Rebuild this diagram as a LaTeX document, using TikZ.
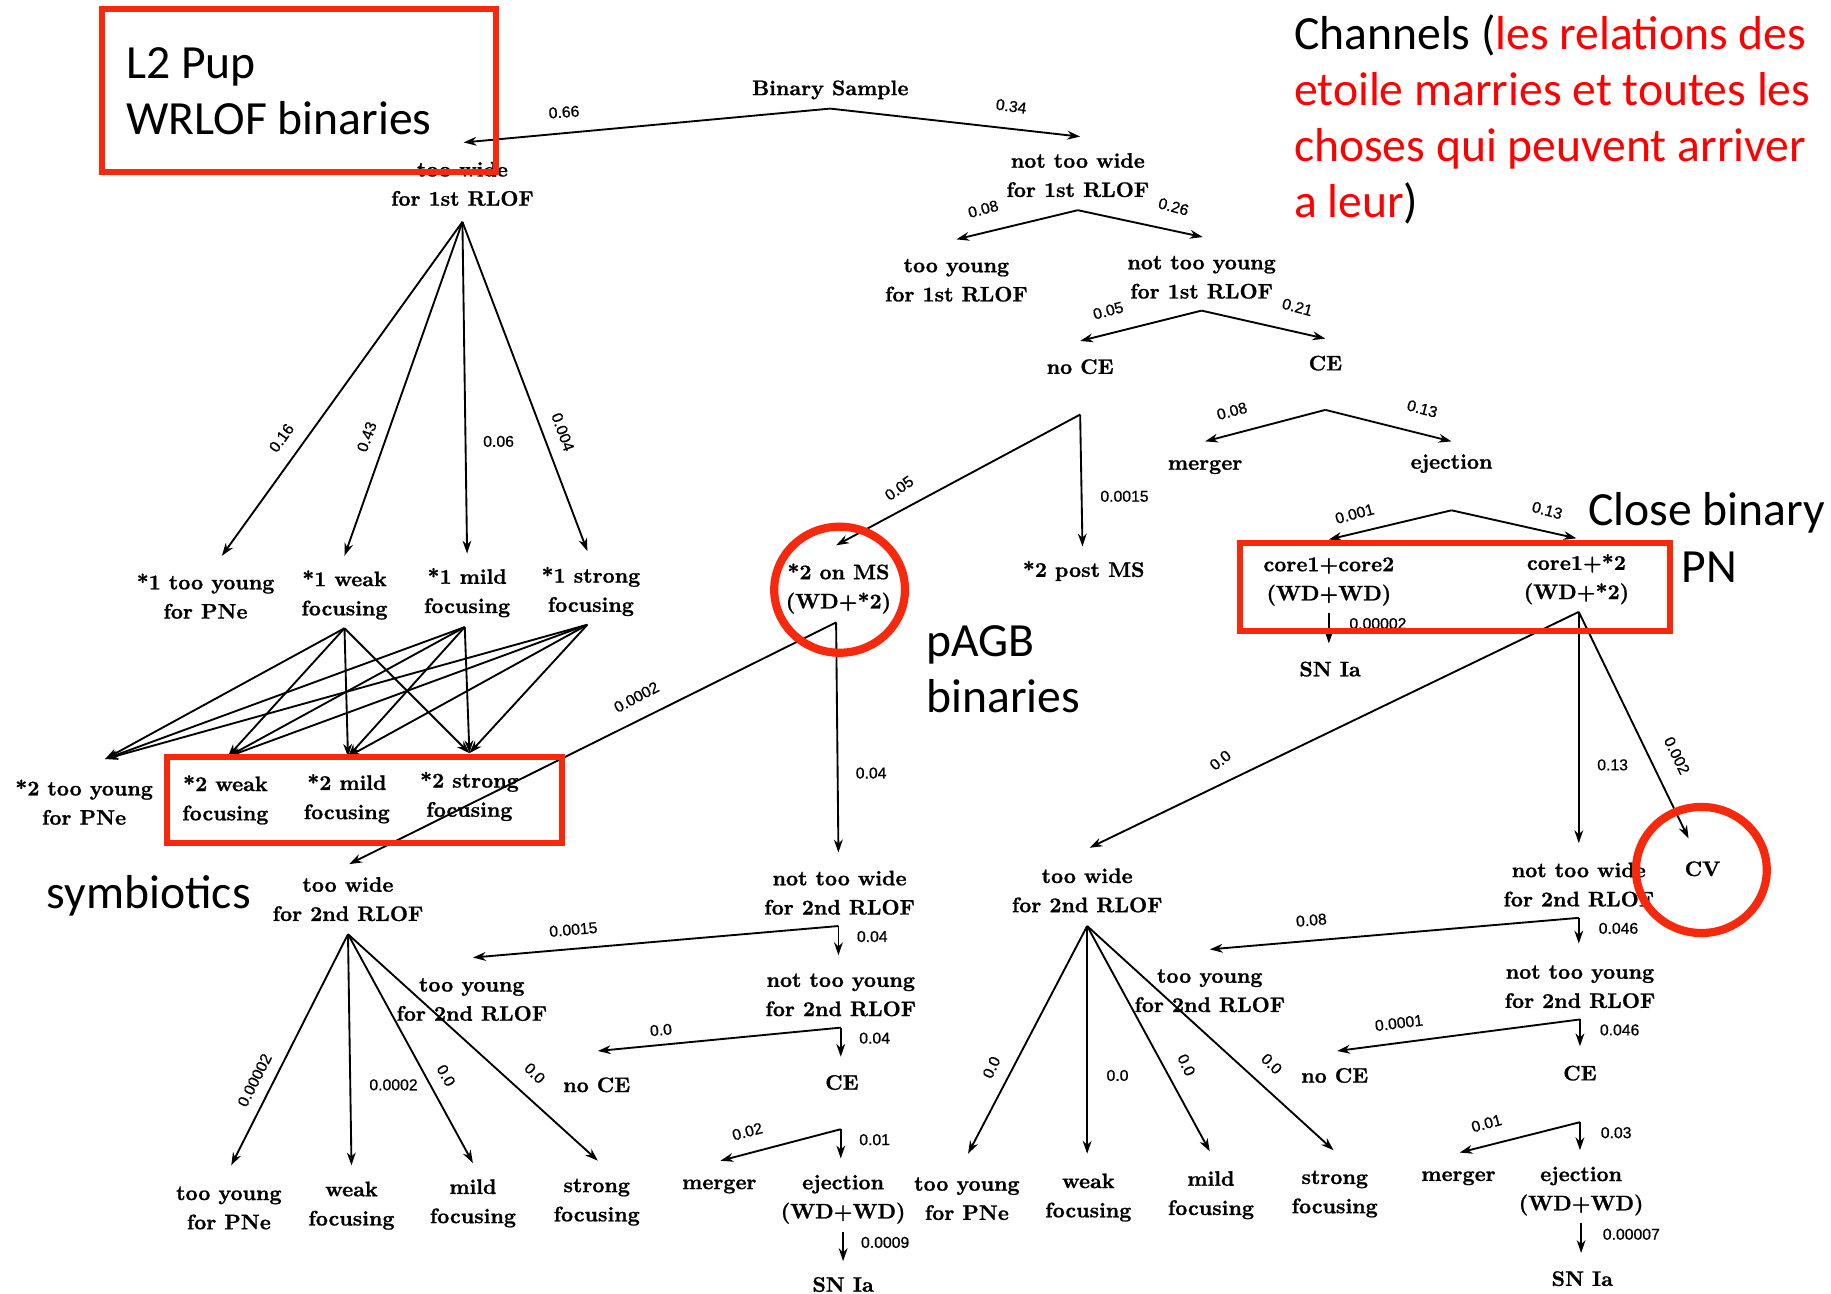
\documentclass[tikz,border=0pt]{standalone}
\usepackage{fontspec}
\newfontfamily\treef{lmroman10-bold.otf}[FakeBold=1]
\newfontfamily\labf{Liberation Sans}[FakeBold=0.6]
\newfontfamily\calf{Carlito}
\usetikzlibrary{arrows.meta}
\definecolor{boxred}{RGB}{248,40,12}
\begin{document}
\begin{tikzpicture}[x=1pt,y=-1pt,
  tx/.style={font=\treef\fontsize{18}{25}\selectfont, align=center, inner sep=0pt},
  lb/.style={font=\labf\fontsize{13.5}{14}\selectfont, inner sep=0pt},
  ann/.style={font=\calf\fontsize{40.8}{48}\selectfont, align=left, inner sep=0pt, anchor=west},
  arr/.style={line width=1.6pt, -{Stealth[length=11pt,width=7.5pt,inset=3.5pt]}},
  redbox/.style={draw=boxred, line width=5pt},
  redring/.style={draw=boxred, line width=7pt}]
\fill[white] (0,0) rectangle (1568,1108);
\path[use as bounding box] (0,0) rectangle (1568,1108);

% ---------- text nodes ----------
\node[tx] (bs) at (711,77) {Binary Sample};
\node[tx] (tw1) at (396,157.5) {too wide\\for 1st RLOF};
\node[tx] (ntw1) at (923,150) {not too wide\\for 1st RLOF};
\node[tx] (ty1) at (819,240) {too young\\for 1st RLOF};
\node[tx] (nty1) at (1029,237.5) {not too young\\for 1st RLOF};
\node[tx] (nce1) at (925,314) {no CE};
\node[tx] (ce1) at (1135,311) {CE};
\node[tx] (mg1) at (1032,400) {merger};
\node[tx] (ej1) at (1243,397) {ejection};
\node[tx] (cc) at (1138,498) {core1+core2\\(WD+WD)};
\node[tx] (sna) at (1139,573) {SN Ia};
\node[tx] (cs) at (1350,496) {core1+*2\\(WD+*2)};
\node[tx] (cv) at (1458,744) {CV};

\node[tx] (y1) at (176,510.5) {*1 too young\\for PNe};
\node[tx] (w1) at (295,509.5) {*1 weak\\focusing};
\node[tx] (m1) at (400,507.5) {*1 mild\\focusing};
\node[tx] (s1) at (506,506.5) {*1 strong\\focusing};
\node[tx] (y2) at (72,687) {*2 too young\\for PNe};
\node[tx] (w2) at (193,685) {*2 weak\\focusing};
\node[tx] (m2) at (297,684) {*2 mild\\focusing};
\node[tx] (s2) at (402,682) {*2 strong\\focusing};

\node[tx] (onms) at (718,504) {*2 on MS\\(WD+*2)};
\node[tx] (pms) at (928,489) {*2 post MS};

\node[tx] (tw2a) at (298,770) {too wide\\for 2nd RLOF};
\node[tx] (yb1) at (196,1034.5) {too young\\for PNe};
\node[tx] (wb1) at (301,1032.5) {weak\\focusing};
\node[tx] (mb1) at (405,1030.5) {mild\\focusing};
\node[tx] (sb1) at (511,1029.5) {strong\\focusing};

\node[tx] (ntw2a) at (719,764.5) {not too wide\\for 2nd RLOF};
\node[tx] (ty2a) at (404,856) {too young\\for 2nd RLOF};
\node[tx] (nty2a) at (720,852) {not too young\\for 2nd RLOF};
\node[tx] (nce2a) at (511,929) {no CE};
\node[tx] (ce2a) at (721,927) {CE};
\node[tx] (mg2a) at (616,1016) {merger};
\node[tx] (ej2a) at (722,1027) {ejection\\(WD+WD)};
\node[tx] (sn2a) at (722,1100) {SN Ia};

\node[tx] (tw2b) at (931,762.5) {too wide\\for 2nd RLOF};
\node[tx] (yb2) at (828,1026.5) {too young\\for PNe};
\node[tx] (wb2) at (932,1025.5) {weak\\focusing};
\node[tx] (mb2) at (1037,1023.5) {mild\\focusing};
\node[tx] (sb2) at (1143,1022.5) {strong\\focusing};

\node[tx] (ntw2b) at (1352,757.5) {not too wide\\for 2nd RLOF};
\node[tx] (ty2b) at (1036,848.5) {too young\\for 2nd RLOF};
\node[tx] (nty2b) at (1353,845) {not too young\\for 2nd RLOF};
\node[tx] (nce2b) at (1143,921) {no CE};
\node[tx] (ce2b) at (1353,919) {CE};
\node[tx] (mg2b) at (1249,1009) {merger};
\node[tx] (ej2b) at (1354,1020) {ejection\\(WD+WD)};
\node[tx] (sn2b) at (1355,1095) {SN Ia};

% ---------- connector points ----------
\coordinate (bsA) at (711,93);
\coordinate (tw1in) at (397,122);   \coordinate (tw1A) at (396,190);
\coordinate (ntw1in) at (925,117);  \coordinate (ntw1A) at (923,180);
\coordinate (ty1in) at (819,205);
\coordinate (nty1in) at (1030,203); \coordinate (nty1A) at (1029,266);
\coordinate (nce1in) at (925,292);  \coordinate (nce1A) at (925,355);
\coordinate (ce1in) at (1135,290);  \coordinate (ce1A) at (1135,351);
\coordinate (mg1in) at (1032,378);
\coordinate (ej1in) at (1243,378);  \coordinate (ej1A) at (1243,437);
\coordinate (ccin) at (1138,462);   \coordinate (ccA) at (1138,525);
\coordinate (snain) at (1138,551);
\coordinate (csin) at (1350,461);   \coordinate (csA) at (1352,524);
\coordinate (cvin) at (1446,718);

\coordinate (y1in) at (190,476);
\coordinate (w1in) at (295,476);    \coordinate (w1A) at (295,538);
\coordinate (m1in) at (400,474);    \coordinate (m1A) at (398,537);
\coordinate (s1in) at (503,472);    \coordinate (s1A) at (503,535);
\coordinate (y2in) at (90,650);
\coordinate (w2in) at (195,648);
\coordinate (m2in) at (298,648);
\coordinate (s2in) at (402,645);

\coordinate (onmsin) at (716,467);  \coordinate (onmsA) at (716,533);
\coordinate (pmsin) at (927,468);

\coordinate (tw2ain) at (299,740);  \coordinate (tw2aA) at (298,800);
\coordinate (yb1in) at (198,998);
\coordinate (wb1in) at (301,998);
\coordinate (mb1in) at (405,996);
\coordinate (sb1in) at (512,994);

\coordinate (ntw2ain) at (718,730); \coordinate (ntw2aA) at (718,793);
\coordinate (ty2ain) at (405,820);
\coordinate (nty2ain) at (718,818); \coordinate (nty2aA) at (720,880);
\coordinate (nce2ain) at (512,900);
\coordinate (ce2ain) at (720,905);  \coordinate (ce2aA) at (720,967);
\coordinate (mg2ain) at (617,994);
\coordinate (ej2ain) at (720,992);  \coordinate (ej2aA) at (722,1055);
\coordinate (sn2ain) at (722,1080);

\coordinate (tw2bin) at (933,726);  \coordinate (tw2bA) at (931,793);
\coordinate (yb2in) at (829,988);
\coordinate (wb2in) at (931,988);
\coordinate (mb2in) at (1036,986);
\coordinate (sb2in) at (1142,985);

\coordinate (ntw2bin) at (1352,722); \coordinate (ntw2bA) at (1352,786);
\coordinate (ty2bin) at (1036,813);
\coordinate (nty2bin) at (1352,808); \coordinate (nty2bA) at (1353,873);
\coordinate (nce2bin) at (1145,900);
\coordinate (ce2bin) at (1353,896);  \coordinate (ce2bA) at (1353,961);
\coordinate (mg2bin) at (1250,987);
\coordinate (ej2bin) at (1353,985);  \coordinate (ej2bA) at (1354,1047);
\coordinate (sn2bin) at (1354,1073);

% ---------- connectors ----------
\draw[arr] (bsA) -- (tw1in);
\draw[arr] (bsA) -- (ntw1in);
\draw[arr] (ntw1A) -- (ty1in);
\draw[arr] (ntw1A) -- (nty1in);
\draw[arr] (nty1A) -- (nce1in);
\draw[arr] (nty1A) -- (ce1in);
\draw[arr] (ce1A) -- (mg1in);
\draw[arr] (ce1A) -- (ej1in);
\draw[arr] (ej1A) -- (ccin);
\draw[arr] (ej1A) -- (csin);
\draw[arr] (ccA) -- (snain);
\draw[arr] (csA) -- (tw2bin);
\draw[arr] (csA) -- (ntw2bin);
\draw[arr] (csA) -- (cvin);

\draw[arr] (tw1A) -- (y1in);
\draw[arr] (tw1A) -- (w1in);
\draw[arr] (tw1A) -- (m1in);
\draw[arr] (tw1A) -- (s1in);
\foreach \s in {w1A,m1A,s1A}{
  \foreach \t in {y2in,w2in,m2in,s2in}{
    \draw[arr] (\s) -- (\t);
  }
}

\draw[arr] (nce1A) -- (onmsin);
\draw[arr] (nce1A) -- (pmsin);
\draw[arr] (onmsA) -- (tw2ain);
\draw[arr] (onmsA) -- (ntw2ain);

\draw[arr] (tw2aA) -- (yb1in);
\draw[arr] (tw2aA) -- (wb1in);
\draw[arr] (tw2aA) -- (mb1in);
\draw[arr] (tw2aA) -- (sb1in);

\draw[arr] (ntw2aA) -- (ty2ain);
\draw[arr] (ntw2aA) -- (nty2ain);
\draw[arr] (nty2aA) -- (nce2ain);
\draw[arr] (nty2aA) -- (ce2ain);
\draw[arr] (ce2aA) -- (mg2ain);
\draw[arr] (ce2aA) -- (ej2ain);
\draw[arr] (ej2aA) -- (sn2ain);

\draw[arr] (tw2bA) -- (yb2in);
\draw[arr] (tw2bA) -- (wb2in);
\draw[arr] (tw2bA) -- (mb2in);
\draw[arr] (tw2bA) -- (sb2in);

\draw[arr] (ntw2bA) -- (ty2bin);
\draw[arr] (ntw2bA) -- (nty2bin);
\draw[arr] (nty2bA) -- (nce2bin);
\draw[arr] (nty2bA) -- (ce2bin);
\draw[arr] (ce2bA) -- (mg2bin);
\draw[arr] (ce2bA) -- (ej2bin);
\draw[arr] (ej2bA) -- (sn2bin);

% ---------- edge labels ----------
\node[lb, rotate=4] (l01) at (483,96) {0.66};
\node[lb, rotate=-8] (l02) at (866,91) {0.34};
\node[lb, rotate=15] (l03) at (842,179) {0.08};
\node[lb, rotate=-15] (l04) at (1005,177) {0.26};
\node[lb, rotate=15] (l05) at (949,266) {0.05};
\node[lb, rotate=-15] (l06) at (1111,263) {0.21};
\node[lb, rotate=15] (l07) at (1055,352) {0.08};
\node[lb, rotate=-15] (l08) at (1218,350) {0.13};
\node[lb, rotate=15] (l09) at (1160,440) {0.001};
\node[lb, rotate=-15] (l10) at (1325,437) {0.13};
\node[lb] (l11) at (1180,534) {0.00002};
\node[lb, rotate=54] (l12) at (241,375) {0.16};
\node[lb, rotate=70] (l13) at (314,374) {0.43};
\node[lb] (l14) at (427,378) {0.06};
\node[lb, rotate=-70] (l15) at (482,370) {0.004};
\node[lb, rotate=35] (l16) at (770,418) {0.05};
\node[lb] (l17) at (963,425) {0.0015};
\node[lb, rotate=28] (l18) at (545,597) {0.0002};
\node[lb] (l19) at (746,662) {0.04};
\node[lb, rotate=38] (l20) at (1045,651) {0.0};
\node[lb] (l21) at (1381,655) {0.13};
\node[lb, rotate=-64] (l22) at (1436,647) {0.002};
\node[lb, rotate=63] (l23) at (218,925) {0.00002};
\node[lb] (l24) at (337,929) {0.0002};
\node[lb, rotate=-61] (l25) at (382,921) {0.0};
\node[lb, rotate=-45] (l26) at (458,919) {0.0};
\node[lb, rotate=5] (l27) at (491,796) {0.0015};
\node[lb] (l28) at (747,802) {0.04};
\node[lb, rotate=5] (l29) at (566,882) {0.0};
\node[lb] (l30) at (749,889) {0.04};
\node[lb, rotate=15] (l31) at (640,969) {0.02};
\node[lb] (l32) at (749,976) {0.01};
\node[lb] (l33) at (758,1064) {0.0009};
\node[lb, rotate=65] (l34) at (849,914) {0.0};
\node[lb] (l35) at (957,921) {0.0};
\node[lb, rotate=-65] (l36) at (1016,912) {0.0};
\node[lb, rotate=-45] (l37) at (1089,911) {0.0};
\node[lb, rotate=5] (l38) at (1123,788) {0.08};
\node[lb] (l39) at (1386,795) {0.046};
\node[lb, rotate=7] (l40) at (1198,876) {0.0001};
\node[lb] (l41) at (1387,882) {0.046};
\node[lb, rotate=15] (l42) at (1273,962) {0.01};
\node[lb] (l43) at (1384,970) {0.03};
\node[lb] (l44) at (1397,1057) {0.00007};

% ---------- annotations ----------
\draw[redbox] (87,8) rectangle (425,147);
\node[ann] (a1) at (108,78) {L2 Pup\\WRLOF binaries};
\node[ann] (a2) at (1108,102) {Channels (\textcolor{red}{les relations des}\\\textcolor{red}{etoile marries et toutes les}\\\textcolor{red}{choses qui peuvent arriver}\\\textcolor{red}{a leur})};
\draw[redbox] (143,648) rectangle (481,722);
\draw[redbox] (1062,465) rectangle (1430,540);
\draw[redring] (719,505) ellipse [x radius=56, y radius=54];
\draw[redring] (1457,745) ellipse [x radius=56, y radius=54];
\node[ann] (a3) at (793,573) {pAGB\\binaries};
\node[ann] (a4) at (40,767) {symbiotics};
\node[ann] (a5) at (1360,439) {Close binary};
\node[ann] (a6) at (1440,486) {PN};
\end{tikzpicture}
\end{document}
